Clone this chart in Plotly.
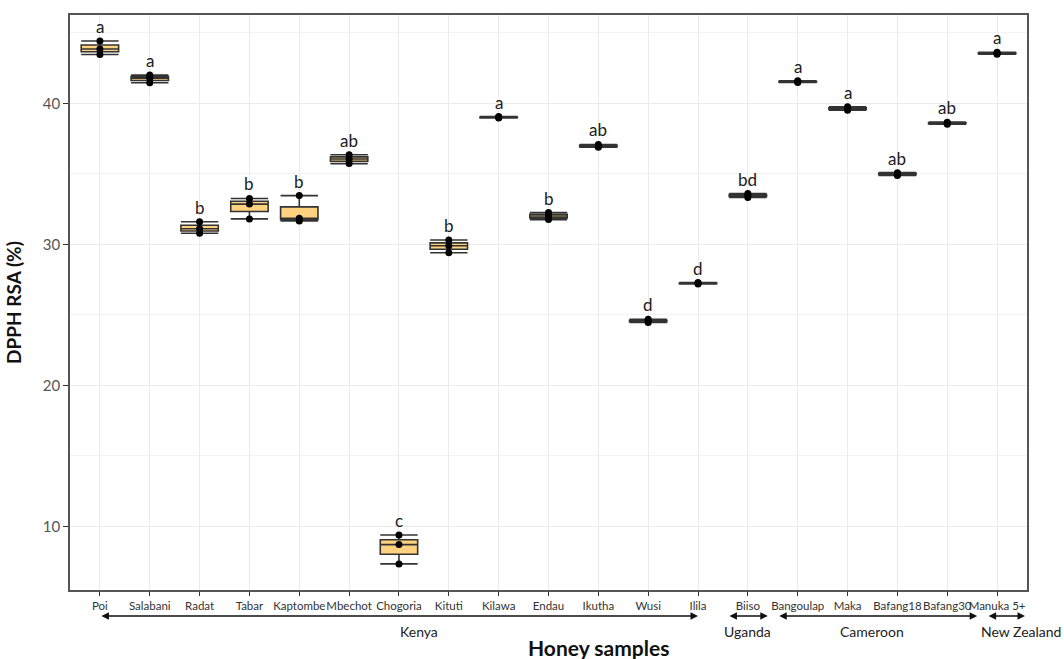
import plotly.graph_objects as go

samples = ["Poi", "Salabani", "Radat", "Tabar", "Kaptombe", "Mbechot", "Chogoria",
           "Kituti", "Kilawa", "Endau", "Ikutha", "Wusi", "Ilila", "Biiso",
           "Bangoulap", "Maka", "Bafang18", "Bafang30", "Manuka 5+"]
rep_low = [43.46, 41.45, 30.78, 31.80, 31.65, 35.72, 7.33, 29.40, 38.95, 31.75,
           36.88, 24.45, 27.18, 33.32, 41.47, 39.50, 34.88, 38.52, 43.48]
rep_mid = [43.85, 41.78, 31.10, 32.85, 31.85, 36.05, 8.70, 29.90, 39.00, 32.00,
           36.97, 24.55, 27.23, 33.45, 41.53, 39.62, 34.97, 38.58, 43.55]
rep_high = [44.42, 42.00, 31.60, 33.25, 33.45, 36.35, 9.38, 30.30, 39.06, 32.25,
            37.08, 24.68, 27.28, 33.60, 41.60, 39.75, 35.08, 38.66, 43.62]
letters = ["a", "a", "b", "b", "b", "ab", "c", "b", "a", "b", "ab", "d", "d",
           "bd", "a", "a", "ab", "ab", "a"]

countries = ["Kenya", "Uganda", "Cameroon", "New Zealand"]
country_start = [0, 12.6, 13.6, 17.8]
country_end = [12, 13.4, 17.6, 18.56]
country_label_x = [6.4, 13.0, 15.5, 18.48]

FONT = "Lato"

xs, ys = [], []
for s, a, b, c in zip(samples, rep_low, rep_mid, rep_high):
    xs += [s, s, s]
    ys += [a, b, c]

fig = go.Figure()
fig.add_trace(go.Box(
    x=xs, y=ys,
    quartilemethod="inclusive",
    boxpoints="all", pointpos=0, jitter=0,
    marker=dict(color="black", size=7),
    line=dict(color="#333333", width=1.6),
    fillcolor="#FFD27F",
    whiskerwidth=1,
    width=0.75,
    showlegend=False,
    hoverinfo="y",
))

annotations = []
for s, top, lab in zip(samples, rep_high, letters):
    annotations.append(dict(
        x=s, y=top, xref="x", yref="y", text=lab, showarrow=False,
        yanchor="bottom", yshift=2,
        font=dict(family=FONT, size=17, color="#1a1a1a"),
    ))

arrow_y = -0.045
for name, x0, x1, xl in zip(countries, country_start, country_end, country_label_x):
    annotations.append(dict(
        x=x1, y=arrow_y, xref="x", yref="paper",
        ax=x0, ay=0, axref="x", ayref="pixel",
        text="", showarrow=True, arrowhead=2, startarrowhead=2,
        arrowside="end+start", arrowsize=1, startarrowsize=1,
        arrowwidth=1.5, arrowcolor="#111111",
    ))
    annotations.append(dict(
        x=xl, y=-0.072, xref="x", yref="paper", text=name, showarrow=False,
        yanchor="middle", font=dict(family=FONT, size=14, color="#222222"),
    ))

annotations.append(dict(
    x=0.552, y=-0.1, xref="paper", yref="paper", text="<b>Honey samples</b>",
    showarrow=False, yanchor="middle",
    font=dict(family=FONT, size=21, color="#111111"),
))

fig.update_layout(
    width=1064, height=659,
    margin=dict(l=70, r=37, t=15, b=69),
    paper_bgcolor="white", plot_bgcolor="white",
    annotations=annotations,
    font=dict(family=FONT),
)
fig.update_xaxes(
    type="category", categoryorder="array", categoryarray=samples,
    range=[-0.6, 18.6], automargin=False, tickangle=0,
    showgrid=True, gridcolor="#ebebeb", gridwidth=1,
    showline=True, linecolor="#555555", linewidth=1.5, mirror=True,
    ticks="outside", ticklen=4, tickcolor="#333333",
    tickfont=dict(family=FONT, size=11.5, color="#333333"),
    zeroline=False,
)
fig.update_yaxes(
    range=[5.48, 46.26], tick0=0, dtick=10, automargin=False,
    showgrid=True, gridcolor="#ebebeb", gridwidth=1,
    minor=dict(dtick=5, tick0=0, showgrid=True, gridcolor="#f3f3f3", gridwidth=1),
    showline=True, linecolor="#555555", linewidth=1.5, mirror=True,
    ticks="outside", ticklen=5, tickcolor="#333333",
    tickfont=dict(family=FONT, size=15, color="#555555"),
    title=dict(text="<b>DPPH RSA (%)</b>", standoff=16,
               font=dict(family=FONT, size=19, color="#111111")),
    zeroline=False,
)

fig.write_html(
    "out.html",
    config={"displayModeBar": False},
    post_script="document.body.style.margin='0';document.body.style.overflow='hidden';",
)
